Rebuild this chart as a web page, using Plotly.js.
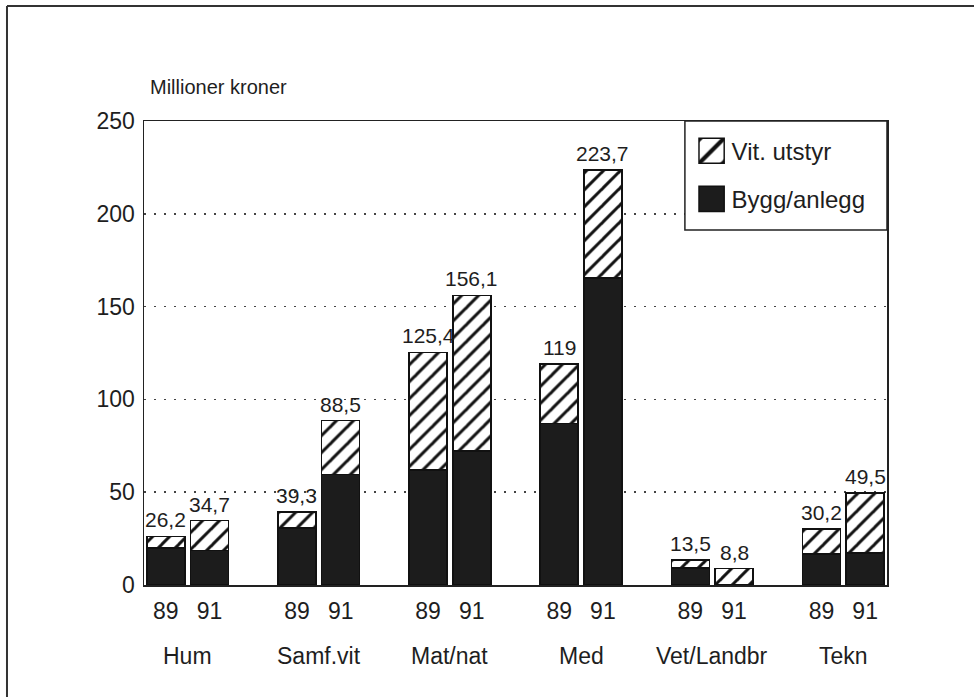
<!DOCTYPE html>
<html><head><meta charset="utf-8">
<script src="https://cdn.plot.ly/plotly-3.0.1.min.js"></script>
<style>html,body{margin:0;padding:0;background:#fff;} #chart{width:974px;height:697px;}</style>
</head><body><div id="chart"></div>
<script>
// ---- data ----
const categories = ['Hum', 'Samf.vit', 'Mat/nat', 'Med', 'Vet/Landbr', 'Tekn'];
const years = ['89', '91'];
const bygg89 = [20.0, 30.7, 62.0, 87.1, 9.2, 16.8];
const bygg91 = [18.7, 59.5, 72.2, 165.5, 0, 17.3];
const vit89 = [6.2, 8.6, 63.4, 31.9, 4.3, 13.4];
const vit91 = [16.0, 29.0, 83.9, 58.2, 8.8, 32.2];
const total89 = [26.2, 39.3, 125.4, 119, 13.5, 30.2];
const total91 = [34.7, 88.5, 156.1, 223.7, 8.8, 49.5];
const yTicks = [0, 50, 100, 150, 200, 250];
const seriesNames = ['Bygg/anlegg', 'Vit. utstyr'];
const yTitle = 'Millioner kroner';

// ---- build ----
const FONT = '"Liberation Sans", Arial, Helvetica, sans-serif';
const xs = [], bygg = [], vit = [], totals = [], tickText = [];
categories.forEach((c, i) => {
  xs.push(3 * i, 3 * i + 1);
  bygg.push(bygg89[i], bygg91[i]);
  vit.push(vit89[i], vit91[i]);
  totals.push(total89[i], total91[i]);
  tickText.push(years[0], years[1]);
});
const fmt = v => String(v).replace('.', ',');

const traces = [
  {type: 'bar', x: xs, y: bygg, name: seriesNames[0], width: 0.87, legendgroup: 'b', legendrank: 2,
   marker: {color: '#1c1c1c', line: {color: '#111', width: 1.5}}, hoverinfo: 'skip'},
  {type: 'bar', x: xs, y: vit, name: seriesNames[1], width: 0.87, legendgroup: 'a', legendrank: 1,
   marker: {color: '#fff', line: {color: '#111', width: 1.5},
            pattern: {shape: '/', bgcolor: '#fff', fgcolor: '#111', size: 12, solidity: 0.25}},
   hoverinfo: 'skip'}
];

const annotations = [];
xs.forEach((x, k) => {
  annotations.push({x: x, y: totals[k], xref: 'x', yref: 'y', text: fmt(totals[k]),
    showarrow: false, yanchor: 'bottom', yshift: 3, font: {family: FONT, size: 21, color: '#1e1e1e'}});
});
categories.forEach((c, i) => {
  annotations.push({x: 3 * i + 0.5, y: -0.153, xref: 'x', yref: 'paper', text: c,
    showarrow: false, yanchor: 'middle', font: {family: FONT, size: 23, color: '#1e1e1e'}});
});
annotations.push({x: 0.005, y: 1.073, xref: 'paper', yref: 'paper', text: yTitle, xanchor: 'left',
  yanchor: 'middle', showarrow: false, font: {family: FONT, size: 20, color: '#1e1e1e'}});

const layout = {
  width: 974, height: 697,
  margin: {l: 144, r: 87, t: 121, b: 112, pad: 0},
  paper_bgcolor: '#fff', plot_bgcolor: '#fff',
  barmode: 'stack',
  showlegend: true,
  legend: {x: 0.737, y: 0.9835, xanchor: 'left', yanchor: 'top', bgcolor: 'rgba(0,0,0,0)',
           borderwidth: 0, traceorder: 'grouped', tracegroupgap: 14,
           font: {family: FONT, size: 24, color: '#1e1e1e'}},
  xaxis: {range: [-0.5, 16.5], tickvals: xs, ticktext: tickText, showgrid: false, zeroline: false,
          showline: true, mirror: true, linecolor: '#222', linewidth: 1.5, ticks: '',
          ticklabelstandoff: 5, tickfont: {family: FONT, size: 23, color: '#1e1e1e'}, fixedrange: true},
  yaxis: {range: [0, 250], tickvals: yTicks, showgrid: true, gridcolor: '#444', gridwidth: 1.5,
          griddash: '2px,8px', zeroline: false, showline: true, mirror: true, linecolor: '#222',
          linewidth: 1.5, ticks: '', ticklabelstandoff: 3,
          tickfont: {family: FONT, size: 23, color: '#1e1e1e'}, fixedrange: true},
  annotations: annotations,
  shapes: [
    {type: 'rect', xref: 'paper', yref: 'paper', x0: 0.728, x1: 1, y0: 0.765, y1: 1,
     fillcolor: '#fff', line: {color: '#222', width: 1.5}, layer: 'above'},
    {type: 'line', xref: 'paper', yref: 'paper', x0: -0.1844, x1: -0.1844, y0: 1.248, y1: -0.3,
     line: {color: '#333', width: 2}},
    {type: 'line', xref: 'paper', yref: 'paper', x0: -0.1844, x1: 1.2, y0: 1.248, y1: 1.248,
     line: {color: '#333', width: 2}}
  ]
};

Plotly.newPlot('chart', traces, layout, {staticPlot: true, displayModeBar: false}).then(gd => {
  gd.querySelectorAll('.legendpoints path').forEach(p => {
    const t = p.getAttribute('transform') || '';
    p.setAttribute('transform', t + ' scale(2.1)');
    p.style.strokeWidth = '0.7px';
  });
});
</script></body></html>
